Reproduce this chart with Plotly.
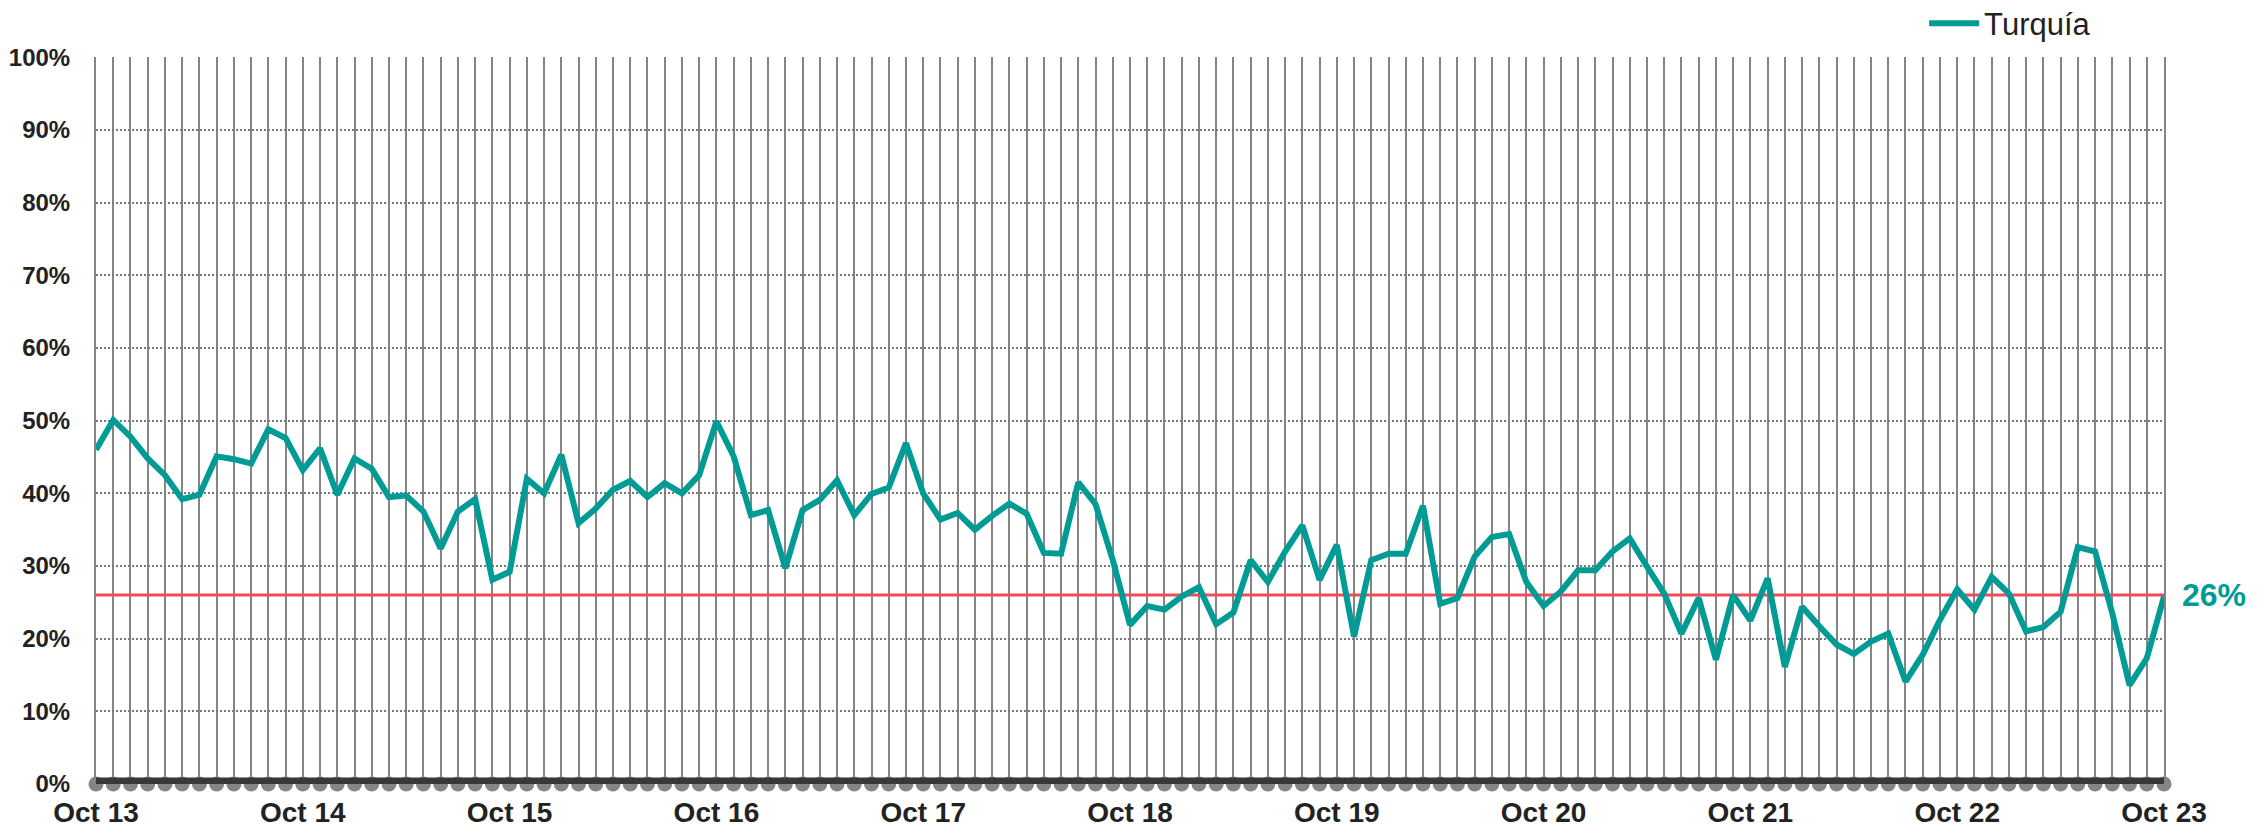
import pandas as pd
import plotly.graph_objects as go

# Monthly categories Oct 2013 .. Oct 2023
meses = list(pd.date_range("2013-10-01", periods=121, freq="MS").strftime("%b %y"))

# Turquía series (%)
turquia = [
    46.0, 50.1, 47.8, 44.8, 42.5, 39.2, 39.8, 45.1, 44.7, 44.1, 48.8, 47.6,
    43.2, 46.2, 39.8, 44.8, 43.4, 39.5, 39.7, 37.5, 32.4, 37.5, 39.2, 28.1,
    29.2, 42.0, 40.0, 45.3, 35.9, 37.9, 40.5, 41.7, 39.5, 41.4, 40.0, 42.5,
    49.9, 45.1, 37.0, 37.7, 29.7, 37.7, 39.1, 41.8, 37.0, 39.9, 40.8, 46.9,
    40.0, 36.4, 37.3, 35.0, 36.9, 38.6, 37.2, 31.8, 31.7, 41.5, 38.5, 30.8,
    21.9, 24.5, 24.0, 25.8, 27.1, 22.0, 23.6, 30.8, 27.8, 32.0, 35.6, 28.1,
    32.9, 20.3, 30.8, 31.7, 31.7, 38.3, 24.8, 25.6, 31.3, 34.0, 34.4, 27.8,
    24.5, 26.5, 29.4, 29.4, 32.0, 33.8, 29.9, 26.2, 20.7, 25.6, 17.1, 26.0,
    22.5, 28.3, 16.1, 24.4, 21.7, 19.2, 17.9, 19.6, 20.7, 14.1, 17.8, 22.6,
    26.8, 24.0, 28.5, 26.2, 21.0, 21.6, 23.7, 32.6, 32.0, 23.5, 13.6, 17.3,
    25.8,
]
referencia = 26.0
tick_labels = ["Oct 13", "Oct 14", "Oct 15", "Oct 16", "Oct 17", "Oct 18",
               "Oct 19", "Oct 20", "Oct 21", "Oct 22", "Oct 23"]

TEAL = "#009B95"
RED = "#F04B5B"
GRID = "#858585"
FONT = "Liberation Sans, Arial, sans-serif"

ticktext = [m if m in tick_labels else "" for m in meses]
vals = [v / 100 for v in turquia]
ref = referencia / 100
eps = 0.0005

fig = go.Figure()

# baseline circles and dark band at 0%
fig.add_trace(go.Scatter(x=meses, y=[0] * len(meses), mode="markers",
                         marker=dict(size=15, color=GRID),
                         cliponaxis=False, showlegend=False, hoverinfo="skip"))
fig.add_trace(go.Scatter(x=meses, y=[0] * len(meses), mode="lines",
                         line=dict(color="#383838", width=13),
                         cliponaxis=False, showlegend=False, hoverinfo="skip"))
# reference line
fig.add_trace(go.Scatter(x=[meses[0], meses[-1]], y=[ref, ref], mode="lines",
                         line=dict(color=RED, width=3),
                         showlegend=False, hoverinfo="skip"))
# series
fig.add_trace(go.Scatter(x=meses, y=vals, mode="lines", name="Turquía",
                         line=dict(color=TEAL, width=6)))

fig.add_annotation(x=meses[-1], y=ref, text=f"{referencia:.0f}%", showarrow=False,
                   xanchor="left", yanchor="middle", xshift=16,
                   font=dict(family=FONT, size=32, color=TEAL, weight="bold"))

fig.update_layout(
    width=2259, height=825,
    margin=dict(l=88, r=103, t=49, b=49, autoexpand=False),
    paper_bgcolor="white", plot_bgcolor="white",
    font=dict(family=FONT, color="#222222"),
    legend=dict(orientation="h", x=0.884, xanchor="left", y=1.046, yanchor="middle",
                font=dict(family=FONT, size=31, color="#222222"),
                bgcolor="rgba(0,0,0,0)", itemwidth=50),
    xaxis=dict(type="category", range=[-eps, len(meses) - 1 + eps],
               tickmode="array", tickvals=meses, ticktext=ticktext,
               showgrid=True, gridcolor=GRID, gridwidth=2,
               ticks="outside", ticklen=3, tickcolor="rgba(0,0,0,0)",
               tickfont=dict(family=FONT, size=28, color="#222222", weight="bold"),
               showline=False, zeroline=False, automargin=False),
    yaxis=dict(range=[0, 1 + eps], dtick=0.1, tickformat=".0%",
               showgrid=True, gridcolor="#777777", gridwidth=2, griddash="2px,2px",
               ticks="outside", ticklen=19, tickcolor="rgba(0,0,0,0)",
               tickfont=dict(family=FONT, size=24, color="#222222", weight="bold"),
               showline=True, mirror=True, linecolor=GRID, linewidth=2,
               zeroline=False, automargin=False),
    showlegend=True,
)

fig.write_html("out.html")
